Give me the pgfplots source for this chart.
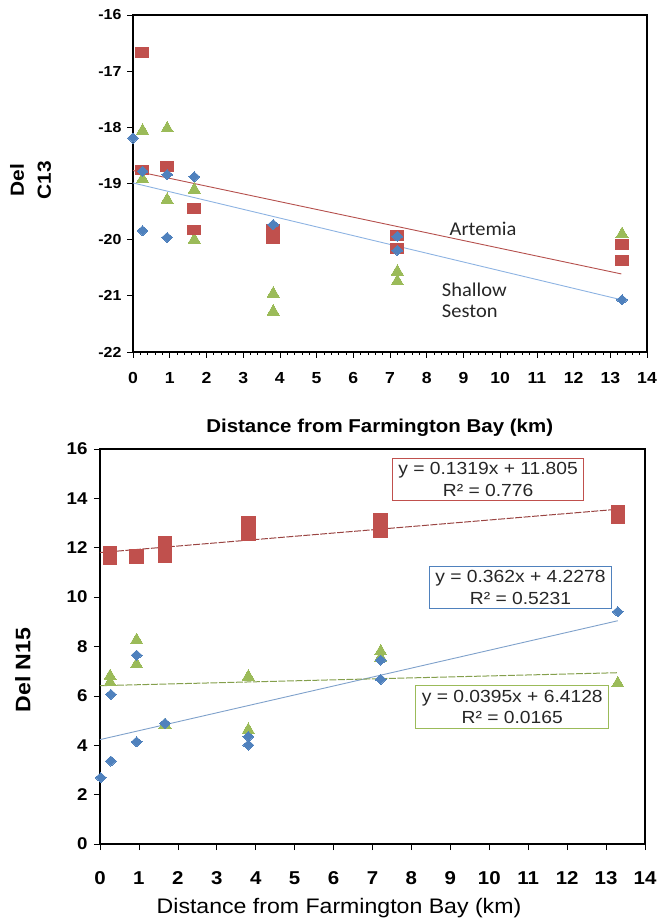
\documentclass[border=0pt]{standalone}
\usepackage{fontspec}
\setmainfont{Liberation Sans}[FakeStretch=1.1]
\newfontfamily\calibri{Carlito}[FakeStretch=1.05]
\usepackage{pgfplots}
\pgfplotsset{compat=1.18}
\definecolor{xred}{HTML}{C0504D}
\definecolor{xblue}{HTML}{4F81BD}
\definecolor{xgreen}{HTML}{9BBB59}
\definecolor{lred}{HTML}{B5504D}
\definecolor{lblue}{HTML}{8DB3E2}
\definecolor{lgreen}{HTML}{9BBB59}
\begin{document}
\begin{tikzpicture}[x=1pt,y=1pt]
\useasboundingbox (0,0) rectangle (660,919);
% ---------------- top panel ----------------
\begin{axis}[
  at={(133pt,567pt)}, anchor=south west,
  width=514pt, height=337pt, scale only axis,
  xmin=0, xmax=14, ymin=-22, ymax=-16,
  xtick={0,1,...,14}, ytick={-22,-21,...,-16},
  minor x tick num=4,
  tick pos=left, tick align=outside,
  major tick length=6pt, minor tick length=3pt,
  every tick/.style={black, line width=0.7pt},
  axis line style={line width=2.6pt, black},
  /pgf/number format/assume math mode=true,
  xticklabel style={font=\bfseries\fontsize{16}{16}\selectfont, yshift=-11pt},
  yticklabel style={font=\bfseries\fontsize{14.5}{14.5}\selectfont, xshift=-2pt},
  every axis x label/.style={at={(axis description cs:0.48,-0.225)}, anchor=center,
     font=\bfseries\fontsize{18.6}{18.6}\selectfont},
  every axis y label/.style={at={(axis description cs:-0.199,0.51)}, anchor=center, rotate=90,
     font=\bfseries\fontsize{19}{27}\selectfont, align=center},
  xlabel={Distance from Farmington Bay (km)},
  ylabel={Del\\C13},
  clip=false,
]
\addplot[lred, line width=0.9pt] coordinates {(0,-18.77) (13.3,-20.61)};
\addplot[lblue, line width=0.9pt] coordinates {(0,-18.99) (13.3,-21.07)};
\addplot[only marks, color=xgreen, mark=triangle*, mark size=7pt, mark options={fill=xgreen, line width=0pt}]
  coordinates {(0.26,-18.06) (0.26,-18.92) (0.93,-18.02) (0.93,-19.29) (1.67,-19.11) (1.67,-20.0)
               (3.82,-20.96) (3.82,-21.28) (7.2,-20.57) (7.2,-20.74) (13.32,-19.9)};
\addplot[only marks, color=xred, mark=square*, mark size=6.5pt, mark options={fill=xred, line width=0pt, yscale=0.75}]
  coordinates {(0.25,-16.67) (0.25,-18.76) (0.93,-18.70) (1.67,-19.44) (1.67,-19.83) (3.82,-19.82)
               (3.82,-19.99) (7.2,-19.92) (7.2,-20.16) (13.32,-20.09) (13.32,-20.37)};
\addplot[only marks, color=xblue, mark=diamond*, mark size=5pt, mark options={fill=xblue, line width=0pt, xscale=1.45}]
  coordinates {(0,-18.19) (0.26,-18.78) (0.26,-19.84) (0.93,-18.84) (0.93,-19.96) (1.67,-18.88)
               (3.82,-19.73) (7.2,-19.94) (7.2,-20.19) (13.32,-21.07)};
\node[anchor=west, inner sep=0pt, font=\calibri\fontsize{19.5}{21}\selectfont, text=black!85] at (axis cs:8.62,-19.80) {Artemia};
\node[anchor=west, inner sep=0pt, align=left, font=\calibri\fontsize{19.5}{21}\selectfont, text=black!85] at (axis cs:8.41,-21.08) {Shallow\\Seston};
\end{axis}
% ---------------- bottom panel ----------------
\begin{axis}[
  at={(100pt,75pt)}, anchor=south west,
  width=545pt, height=395pt, scale only axis,
  xmin=0, xmax=14, ymin=0, ymax=16,
  xtick={0,1,...,14}, ytick={0,2,...,16},
  tick pos=left, tick align=outside,
  major tick length=6pt,
  every tick/.style={black, line width=0.7pt},
  axis line style={line width=2.6pt, black},
  /pgf/number format/assume math mode=true,
  xticklabel style={font=\bfseries\fontsize{18.6}{18.6}\selectfont, yshift=-18pt},
  yticklabel style={font=\bfseries\fontsize{17}{17}\selectfont, xshift=-3pt},
  every axis x label/.style={at={(axis description cs:0.4385,-0.163)}, anchor=center,
     font=\fontsize{21}{21}\selectfont},
  every axis y label/.style={at={(axis description cs:-0.1413,0.4405)}, anchor=center, rotate=90,
     font=\bfseries\fontsize{21}{21}\selectfont},
  xlabel={Distance from Farmington Bay (km)},
  ylabel={Del N15},
  clip=false,
]
\addplot[lred!85!black, line width=1pt, dash pattern=on 7pt off 1.5pt] coordinates {(0,11.805) (13.3,13.559)};
\addplot[lblue!90!black, line width=0.9pt] coordinates {(0,4.228) (13.3,9.043)};
\addplot[lgreen!85!black, line width=1pt, dash pattern=on 7pt off 1.5pt] coordinates {(0,6.413) (13.3,6.938)};
\addplot[only marks, color=xgreen, mark=triangle*, mark size=7pt, mark options={fill=xgreen, line width=0pt}]
  coordinates {(0.26,6.8) (0.26,6.55) (0.94,8.26) (0.94,7.28) (1.67,4.82) (3.81,6.78) (3.81,4.62)
               (7.21,7.8) (7.21,7.55) (13.3,6.51)};
\addplot[only marks, color=xred, mark=square*, mark size=6.7pt, mark options={fill=xred, line width=0pt}]
  coordinates {(0.26,11.77) (0.26,11.59) (0.94,11.64) (1.67,12.2) (1.67,11.68) (3.81,13.01) (3.81,12.55)
               (7.21,13.12) (7.21,12.68) (13.3,13.42) (13.3,13.26)};
\addplot[only marks, color=xblue, mark=diamond*, mark size=5pt, mark options={fill=xblue, line width=0pt, xscale=1.45}]
  coordinates {(0.02,2.69) (0.28,3.36) (0.28,6.06) (0.94,4.14) (0.94,7.65) (1.67,4.89) (3.81,4.35)
               (3.81,4.01) (7.21,7.45) (7.21,6.67) (13.3,9.41)};
\node[draw=xred, line width=1pt, fill=white, align=center, inner xsep=6pt, inner ysep=4pt,
      font=\fontsize{17.5}{21.7}\selectfont, text=black!85] at (axis cs:9.97,14.76)
      {y = 0.1319x + 11.805\\R² = 0.776};
\node[draw=xblue, line width=1pt, fill=white, align=center, inner xsep=6pt, inner ysep=4pt,
      font=\fontsize{17.5}{21.7}\selectfont, text=black!85] at (axis cs:10.8,10.38)
      {y = 0.362x + 4.2278\\R² = 0.5231};
\node[draw=xgreen, line width=1pt, fill=white, align=center, inner xsep=6pt, inner ysep=4pt,
      font=\fontsize{17.5}{21.7}\selectfont, text=black!85] at (axis cs:10.59,5.55)
      {y = 0.0395x + 6.4128\\R² = 0.0165};
\end{axis}
\end{tikzpicture}
\end{document}
